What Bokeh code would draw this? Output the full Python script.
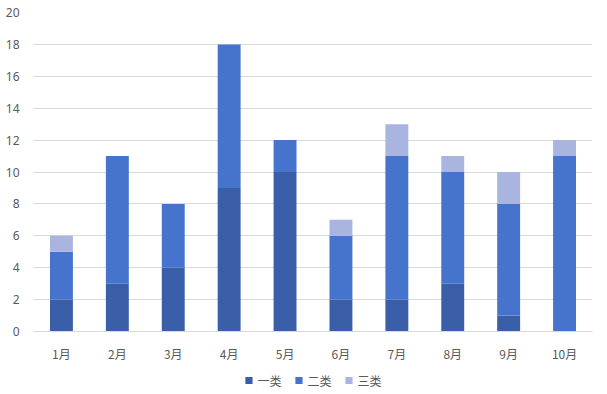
from bokeh.plotting import figure
from bokeh.layouts import column
from bokeh.models import ColumnDataSource, Legend, FactorRange, SingleIntervalTicker
from bokeh.embed import file_html
from bokeh.resources import INLINE

months = ["1月", "2月", "3月", "4月", "5月", "6月", "7月", "8月", "9月", "10月"]
cls1 = [2, 3, 4, 9, 10, 2, 2, 3, 1, 0]
cls2 = [3, 8, 4, 9, 2, 4, 9, 7, 7, 11]
cls3 = [1, 0, 0, 0, 0, 1, 2, 1, 2, 1]
series = ["一类", "二类", "三类"]
colors = ["#3A5FA8", "#4673CC", "#A9B5DF"]

src = ColumnDataSource(dict(month=months, 一类=cls1, 二类=cls2, 三类=cls3))

p = figure(width=607, height=365, x_range=FactorRange(*months, range_padding=0.0),
           y_range=(0, 20), output_backend="svg", toolbar_location=None,
           min_border_left=33, min_border_right=15, min_border_top=12, min_border_bottom=34)
r = p.vbar_stack(series, x="month", width=0.41, source=src, color=colors, line_color=None)

p.outline_line_color = None
p.xgrid.grid_line_color = None
p.ygrid.grid_line_color = "#D9D9D9"
p.yaxis.ticker = SingleIntervalTicker(interval=2)
p.yaxis.axis_line_color = None
p.yaxis.major_tick_line_color = None
p.yaxis.minor_tick_line_color = None
p.yaxis.major_label_text_color = "#595959"
p.yaxis.major_label_text_font_size = "12px"
p.yaxis.major_label_text_font = "Noto Sans"
p.yaxis.major_label_standoff = 8
p.xaxis.axis_line_color = "#D9D9D9"
p.xaxis.major_tick_line_color = None
p.xaxis.minor_tick_line_color = None
p.xaxis.major_label_text_color = "#595959"
p.xaxis.major_label_text_font_size = "12px"
p.xaxis.major_label_text_font = "Noto Sans CJK SC"
p.xaxis.major_label_standoff = 7

# legend strip
lf = figure(width=607, height=29, output_backend="svg", toolbar_location=None,
            x_range=(0, 1), y_range=(0, 1), min_border=0)
lf.axis.visible = False
lf.grid.visible = False
lf.outline_line_color = None
far = ColumnDataSource(dict(l=[-10], r=[-9], b=[-10], t=[-9]))
rs = [lf.quad(left="l", right="r", bottom="b", top="t", source=far, color=c, line_color=None)
      for c in colors]
legend = Legend(items=[(s, [rr]) for s, rr in zip(series, rs)], orientation="horizontal",
                location="center", border_line_color=None, background_fill_alpha=0,
                label_text_font_size="12px", label_text_color="#595959",
                label_text_font="Noto Sans CJK SC", glyph_width=9, glyph_height=9,
                spacing=12, label_standoff=5, margin=0, padding=2)
lf.add_layout(legend, "center")

open("out.html", "w").write(file_html(column(p, lf, spacing=0), INLINE))
